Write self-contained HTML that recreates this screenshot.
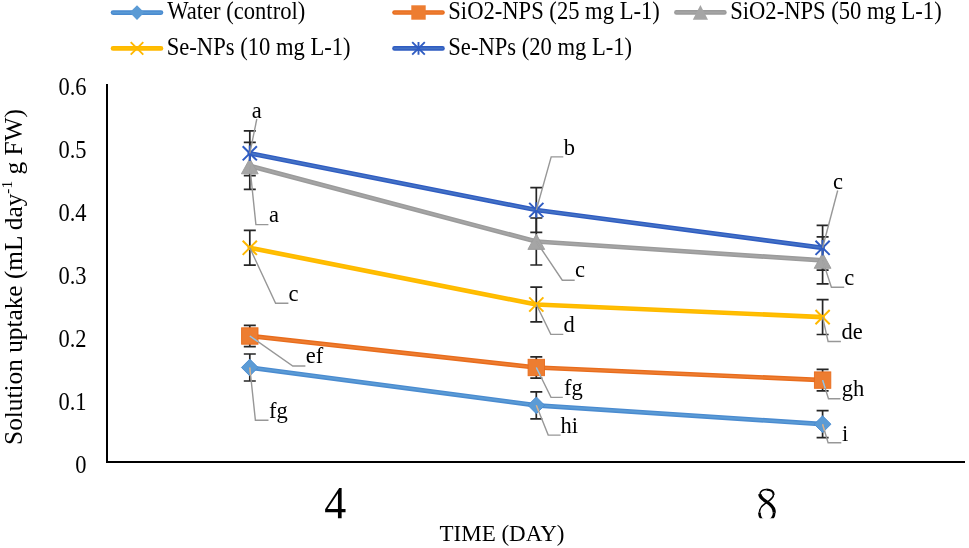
<!DOCTYPE html>
<html><head><meta charset="utf-8"><title>Solution uptake chart</title>
<style>
html,body{margin:0;padding:0;background:#fff;width:969px;height:548px;overflow:hidden;}
svg{display:block;will-change:transform;}
text{font-family:"Liberation Serif",serif;fill:#000;}
</style></head><body>
<svg width="969" height="548" viewBox="0 0 969 548">
<defs><clipPath id="xc"><rect x="0" y="470" width="969" height="48.2"/></clipPath></defs>
<rect width="969" height="548" fill="#fff"/>

<line x1="113.00" y1="12.60" x2="161.00" y2="12.60" stroke="#4a8bd0" stroke-width="4.6" stroke-linecap="round"/>
<line x1="113.00" y1="12.60" x2="161.00" y2="12.60" stroke="#5B9BD5" stroke-width="1.8" stroke-linecap="round"/>
<polygon points="129.70,12.60 137.00,5.20 144.30,12.60 137.00,20.00" fill="#5B9BD5"/>
<text transform="translate(167.2,19.0) scale(1,1.075)" font-size="22.6">Water (control)</text>
<line x1="394.50" y1="12.50" x2="442.50" y2="12.50" stroke="#e86c1c" stroke-width="4.6" stroke-linecap="round"/>
<line x1="394.50" y1="12.50" x2="442.50" y2="12.50" stroke="#ED7D31" stroke-width="1.8" stroke-linecap="round"/>
<rect x="411.30" y="5.30" width="14.4" height="14.4" fill="#ED7D31"/>
<text transform="translate(448.3,19.0) scale(1,1.075)" font-size="22.6">SiO2-NPS (25 mg L-1)</text>
<line x1="676.40" y1="12.40" x2="724.40" y2="12.40" stroke="#9b9b9b" stroke-width="4.6" stroke-linecap="round"/>
<line x1="676.40" y1="12.40" x2="724.40" y2="12.40" stroke="#A5A5A5" stroke-width="1.8" stroke-linecap="round"/>
<polygon points="700.40,5.00 708.00,19.70 692.80,19.70" fill="#A5A5A5"/>
<text transform="translate(730.2,19.0) scale(1,1.075)" font-size="22.6">SiO2-NPS (50 mg L-1)</text>
<line x1="113.00" y1="48.40" x2="161.00" y2="48.40" stroke="#ffb800" stroke-width="4.6" stroke-linecap="round"/>
<line x1="113.00" y1="48.40" x2="161.00" y2="48.40" stroke="#FFC000" stroke-width="1.8" stroke-linecap="round"/>

<path d="M130.70,42.10L143.30,54.70M130.70,54.70L143.30,42.10" stroke="#ffb800" stroke-width="1.9" fill="none"/>
<text transform="translate(166.7,54.6) scale(1,1.075)" font-size="22.6">Se-NPs (10 mg L-1)</text>
<line x1="394.50" y1="48.40" x2="442.50" y2="48.40" stroke="#2f5cc2" stroke-width="4.6" stroke-linecap="round"/>
<line x1="394.50" y1="48.40" x2="442.50" y2="48.40" stroke="#4472C4" stroke-width="1.8" stroke-linecap="round"/>

<path d="M412.20,42.10L424.80,54.70M412.20,54.70L424.80,42.10M418.50,42.10L418.50,54.70" stroke="#2f5cc2" stroke-width="1.9" fill="none"/>
<text transform="translate(448.3,54.6) scale(1,1.075)" font-size="22.6">Se-NPs (20 mg L-1)</text>
<path d="M107,84V462H965" stroke="#000" stroke-width="2" fill="none"/>
<text transform="translate(86.5,472.50) scale(1,1.075)" font-size="22.5" text-anchor="end">0</text>
<text transform="translate(86.5,409.50) scale(1,1.075)" font-size="22.5" text-anchor="end">0.1</text>
<text transform="translate(86.5,346.50) scale(1,1.075)" font-size="22.5" text-anchor="end">0.2</text>
<text transform="translate(86.5,283.50) scale(1,1.075)" font-size="22.5" text-anchor="end">0.3</text>
<text transform="translate(86.5,220.50) scale(1,1.075)" font-size="22.5" text-anchor="end">0.4</text>
<text transform="translate(86.5,157.50) scale(1,1.075)" font-size="22.5" text-anchor="end">0.5</text>
<text transform="translate(86.5,94.50) scale(1,1.075)" font-size="22.5" text-anchor="end">0.6</text>
<text transform="translate(22.0,277) rotate(-90)" font-size="25.3" text-anchor="middle">Solution uptake (mL day<tspan font-size="15.5" dy="-10">-1</tspan><tspan dy="10"> g FW)</tspan></text>
<g clip-path="url(#xc)"><text transform="translate(335.3,518.6) scale(1,1.035)" font-size="44" text-anchor="middle">4</text>
<g fill="none" stroke="#000" stroke-linecap="butt">
<path d="M760.0,494.6 C759.8,491.2 762.8,489.6 766.7,489.6" stroke-width="1.5"/>
<path d="M766.5,489.6 C770.8,489.6 773.7,491.4 773.6,494.8" stroke-width="2.2"/>
<path d="M759.8,494.2 C760.0,497.8 763.2,499.8 767.0,502.1 C771.6,505.0 774.4,507.8 774.2,512.6" stroke-width="3.3"/>
<path d="M774.2,512.4 C774.2,517.0 771.4,520.9 766.8,520.9" stroke-width="2.7"/>
<path d="M766.8,520.9 C762.2,520.9 759.4,517.2 759.4,512.4" stroke-width="2.7"/>
<path d="M759.4,512.6 C759.4,507.8 762.2,505.4 765.4,503.3 C769.8,500.4 773.7,498.2 773.6,494.2" stroke-width="1.5"/>
</g></g>
<text x="502" y="540.5" font-size="23" text-anchor="middle">TIME (DAY)</text>
<path d="M249.80,354.00V381.00M243.80,354.00H255.80M243.80,381.00H255.80" stroke="#262626" stroke-width="1.7" fill="none"/>
<path d="M536.30,391.80V418.80M530.30,391.80H542.30M530.30,418.80H542.30" stroke="#262626" stroke-width="1.7" fill="none"/>
<path d="M822.60,410.70V437.70M816.60,410.70H828.60M816.60,437.70H828.60" stroke="#262626" stroke-width="1.7" fill="none"/>
<path d="M249.80,325.30V346.70M243.80,325.30H255.80M243.80,346.70H255.80" stroke="#262626" stroke-width="1.7" fill="none"/>
<path d="M536.30,356.80V378.20M530.30,356.80H542.30M530.30,378.20H542.30" stroke="#262626" stroke-width="1.7" fill="none"/>
<path d="M822.60,369.40V390.80M816.60,369.40H828.60M816.60,390.80H828.60" stroke="#262626" stroke-width="1.7" fill="none"/>
<path d="M249.80,142.40V189.40M243.80,142.40H255.80M243.80,189.40H255.80" stroke="#262626" stroke-width="1.7" fill="none"/>
<path d="M536.30,218.00V265.00M530.30,218.00H542.30M530.30,265.00H542.30" stroke="#262626" stroke-width="1.7" fill="none"/>
<path d="M822.60,236.90V283.90M816.60,236.90H828.60M816.60,283.90H828.60" stroke="#262626" stroke-width="1.7" fill="none"/>
<path d="M249.80,230.40V265.20M243.80,230.40H255.80M243.80,265.20H255.80" stroke="#262626" stroke-width="1.7" fill="none"/>
<path d="M536.30,287.10V321.90M530.30,287.10H542.30M530.30,321.90H542.30" stroke="#262626" stroke-width="1.7" fill="none"/>
<path d="M822.60,299.70V334.50M816.60,299.70H828.60M816.60,334.50H828.60" stroke="#262626" stroke-width="1.7" fill="none"/>
<path d="M249.80,130.90V175.70M243.80,130.90H255.80M243.80,175.70H255.80" stroke="#262626" stroke-width="1.7" fill="none"/>
<path d="M536.30,187.60V232.40M530.30,187.60H542.30M530.30,232.40H542.30" stroke="#262626" stroke-width="1.7" fill="none"/>
<path d="M822.60,225.40V270.20M816.60,225.40H828.60M816.60,270.20H828.60" stroke="#262626" stroke-width="1.7" fill="none"/>
<polyline points="249.80,367.50 536.30,405.30 822.60,424.20" stroke="#4a8bd0" stroke-width="4.7" fill="none" stroke-linejoin="round" stroke-linecap="round"/>
<polyline points="249.80,367.50 536.30,405.30 822.60,424.20" stroke="#5B9BD5" stroke-width="2.0" fill="none" stroke-linejoin="round" stroke-linecap="round"/>
<polyline points="249.80,336.00 536.30,367.50 822.60,380.10" stroke="#e86c1c" stroke-width="4.7" fill="none" stroke-linejoin="round" stroke-linecap="round"/>
<polyline points="249.80,336.00 536.30,367.50 822.60,380.10" stroke="#ED7D31" stroke-width="2.0" fill="none" stroke-linejoin="round" stroke-linecap="round"/>
<polyline points="249.80,165.90 536.30,241.50 822.60,260.40" stroke="#9b9b9b" stroke-width="4.7" fill="none" stroke-linejoin="round" stroke-linecap="round"/>
<polyline points="249.80,165.90 536.30,241.50 822.60,260.40" stroke="#A5A5A5" stroke-width="2.0" fill="none" stroke-linejoin="round" stroke-linecap="round"/>
<polyline points="249.80,247.80 536.30,304.50 822.60,317.10" stroke="#ffb800" stroke-width="4.7" fill="none" stroke-linejoin="round" stroke-linecap="round"/>
<polyline points="249.80,247.80 536.30,304.50 822.60,317.10" stroke="#FFC000" stroke-width="2.0" fill="none" stroke-linejoin="round" stroke-linecap="round"/>
<polyline points="249.80,153.30 536.30,210.00 822.60,247.80" stroke="#2f5cc2" stroke-width="4.7" fill="none" stroke-linejoin="round" stroke-linecap="round"/>
<polyline points="249.80,153.30 536.30,210.00 822.60,247.80" stroke="#4472C4" stroke-width="2.0" fill="none" stroke-linejoin="round" stroke-linecap="round"/>
<polygon points="241.40,367.50 249.80,359.10 258.20,367.50 249.80,375.90" fill="#5B9BD5" stroke="#4a8bd0" stroke-width="0.9"/>
<polygon points="527.90,405.30 536.30,396.90 544.70,405.30 536.30,413.70" fill="#5B9BD5" stroke="#4a8bd0" stroke-width="0.9"/>
<polygon points="814.20,424.20 822.60,415.80 831.00,424.20 822.60,432.60" fill="#5B9BD5" stroke="#4a8bd0" stroke-width="0.9"/>
<rect x="241.60" y="327.80" width="16.40" height="16.40" fill="#ED7D31" stroke="#e86c1c" stroke-width="0.9"/>
<rect x="528.10" y="359.30" width="16.40" height="16.40" fill="#ED7D31" stroke="#e86c1c" stroke-width="0.9"/>
<rect x="814.40" y="371.90" width="16.40" height="16.40" fill="#ED7D31" stroke="#e86c1c" stroke-width="0.9"/>
<polygon points="249.80,158.50 258.20,173.80 241.40,173.80" fill="#A5A5A5" stroke="#9b9b9b" stroke-width="0.9"/>
<polygon points="536.30,234.10 544.70,249.40 527.90,249.40" fill="#A5A5A5" stroke="#9b9b9b" stroke-width="0.9"/>
<polygon points="822.60,253.00 831.00,268.30 814.20,268.30" fill="#A5A5A5" stroke="#9b9b9b" stroke-width="0.9"/>
<path d="M242.70,240.70L256.90,254.90M242.70,254.90L256.90,240.70" stroke="#ffb800" stroke-width="2.0" fill="none"/>
<path d="M529.20,297.40L543.40,311.60M529.20,311.60L543.40,297.40" stroke="#ffb800" stroke-width="2.0" fill="none"/>
<path d="M815.50,310.00L829.70,324.20M815.50,324.20L829.70,310.00" stroke="#ffb800" stroke-width="2.0" fill="none"/>
<path d="M242.70,146.20L256.90,160.40M242.70,160.40L256.90,146.20M249.80,145.60L249.80,161.00" stroke="#2f5cc2" stroke-width="2.0" fill="none"/>
<path d="M529.20,202.90L543.40,217.10M529.20,217.10L543.40,202.90M536.30,202.30L536.30,217.70" stroke="#2f5cc2" stroke-width="2.0" fill="none"/>
<path d="M815.50,240.70L829.70,254.90M815.50,254.90L829.70,240.70M822.60,240.10L822.60,255.50" stroke="#2f5cc2" stroke-width="2.0" fill="none"/>
<path d="M249.80,153.30L256.80,119.00" stroke="#979797" stroke-width="1.4" fill="none"/>
<text x="251.80" y="117.50" font-size="22.5">a</text>
<path d="M249.80,165.90L255.90,224.60L268.40,224.60" stroke="#979797" stroke-width="1.4" fill="none"/>
<line x1="249.80" y1="165.90" x2="250.62" y2="173.77" stroke="#A5A5A5" stroke-width="1.5"/>
<text x="268.90" y="222.30" font-size="22.5">a</text>
<path d="M249.80,247.80L275.60,303.20L288.40,303.20" stroke="#979797" stroke-width="1.4" fill="none"/>
<text x="288.40" y="300.60" font-size="22.5">c</text>
<path d="M249.80,336.00L292.80,366.00L305.40,366.00" stroke="#979797" stroke-width="1.4" fill="none"/>
<line x1="249.80" y1="336.00" x2="258.00" y2="341.72" stroke="#98c4e4" stroke-width="1.4"/>
<text x="305.70" y="363.40" font-size="22.5">ef</text>
<path d="M249.80,367.50L255.40,420.20L268.50,420.20" stroke="#979797" stroke-width="1.4" fill="none"/>
<line x1="249.80" y1="367.50" x2="250.61" y2="375.09" stroke="#d4b595" stroke-width="1.4"/>
<text x="269.10" y="417.80" font-size="22.5">fg</text>
<path d="M536.30,210.00L551.20,156.90L563.30,156.90" stroke="#979797" stroke-width="1.4" fill="none"/>
<text x="563.70" y="154.50" font-size="22.5">b</text>
<path d="M536.30,241.50L562.30,280.20L574.70,280.20" stroke="#979797" stroke-width="1.4" fill="none"/>
<line x1="536.30" y1="241.50" x2="541.60" y2="249.39" stroke="#A5A5A5" stroke-width="1.5"/>
<text x="575.10" y="277.30" font-size="22.5">c</text>
<path d="M536.30,304.50L550.80,334.40L563.30,334.40" stroke="#979797" stroke-width="1.4" fill="none"/>
<text x="563.60" y="331.50" font-size="22.5">d</text>
<path d="M536.30,367.50L551.00,397.40L562.80,397.40" stroke="#979797" stroke-width="1.4" fill="none"/>
<line x1="536.30" y1="367.50" x2="540.33" y2="375.70" stroke="#98c4e4" stroke-width="1.4"/>
<text x="563.90" y="394.70" font-size="22.5">fg</text>
<path d="M536.30,405.30L548.20,435.10L560.60,435.10" stroke="#979797" stroke-width="1.4" fill="none"/>
<line x1="536.30" y1="405.30" x2="538.70" y2="411.30" stroke="#d4b595" stroke-width="1.4"/>
<text x="560.40" y="432.80" font-size="22.5">hi</text>
<path d="M822.60,247.80L837.70,190.50" stroke="#979797" stroke-width="1.4" fill="none"/>
<text x="833.10" y="189.30" font-size="22.5">c</text>
<path d="M822.60,260.40L831.40,287.30L844.20,287.30" stroke="#979797" stroke-width="1.4" fill="none"/>
<line x1="822.60" y1="260.40" x2="825.17" y2="268.25" stroke="#A5A5A5" stroke-width="1.5"/>
<text x="844.30" y="284.90" font-size="22.5">c</text>
<path d="M822.60,317.10L828.10,341.50L840.90,341.50" stroke="#979797" stroke-width="1.4" fill="none"/>
<text x="841.40" y="339.20" font-size="22.5">de</text>
<path d="M822.60,380.10L828.50,398.80L840.50,398.80" stroke="#979797" stroke-width="1.4" fill="none"/>
<line x1="822.60" y1="380.10" x2="825.19" y2="388.30" stroke="#98c4e4" stroke-width="1.4"/>
<text x="841.80" y="395.90" font-size="22.5">gh</text>
<path d="M822.60,424.20L828.10,442.70L841.30,442.70" stroke="#979797" stroke-width="1.4" fill="none"/>
<line x1="822.60" y1="424.20" x2="824.52" y2="430.68" stroke="#d4b595" stroke-width="1.4"/>
<text x="842.00" y="440.50" font-size="22.5">i</text>
</svg></body></html>
